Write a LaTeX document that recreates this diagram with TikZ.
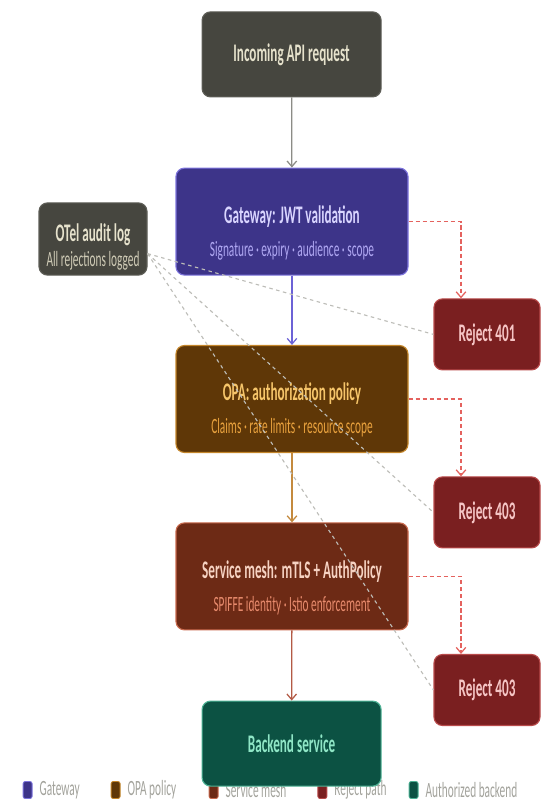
\documentclass[tikz,border=0pt]{standalone}
\usepackage{fontspec}
\setmainfont[FakeStretch=0.52]{Carlito}
\usetikzlibrary{arrows.meta,positioning}

\definecolor{reqfill}{HTML}{46463F}
\definecolor{reqline}{HTML}{5E5E57}
\definecolor{reqtext}{HTML}{E6E2CC}
\definecolor{otelsub}{HTML}{CFCBB6}
\definecolor{gwfill}{HTML}{3D3489}
\definecolor{gwline}{HTML}{7D74DC}
\definecolor{gwhead}{HTML}{D9D5FF}
\definecolor{gwsub}{HTML}{AFA7F2}
\definecolor{gwarrow}{HTML}{6C62D6}
\definecolor{opafill}{HTML}{5F3707}
\definecolor{opaline}{HTML}{C4862B}
\definecolor{opahead}{HTML}{F6C56A}
\definecolor{opasub}{HTML}{E9A23E}
\definecolor{opaarrow}{HTML}{C48A3E}
\definecolor{meshfill}{HTML}{6D2A15}
\definecolor{meshline}{HTML}{C86A4E}
\definecolor{meshhead}{HTML}{F6D2C2}
\definecolor{meshsub}{HTML}{E78A6C}
\definecolor{mesharrow}{HTML}{B35A45}
\definecolor{rejfill}{HTML}{7A1F20}
\definecolor{rejline}{HTML}{B84A4A}
\definecolor{rejtext}{HTML}{F6C6C6}
\definecolor{bkfill}{HTML}{0C5243}
\definecolor{bkline}{HTML}{4EB295}
\definecolor{bktext}{HTML}{8FE6C6}
\definecolor{reddash}{HTML}{E4625E}
\definecolor{graydash}{HTML}{BDBDB8}
\definecolor{legendtext}{HTML}{A3A39C}
\definecolor{reqarrow}{HTML}{8C8C86}

\newcommand{\headfont}{\fontsize{18}{21}\selectfont\bfseries}
\newcommand{\subfont}{\fontsize{15.5}{18}\selectfont}
\newcommand{\headstrut}{\rule{0pt}{1.0cm}}

\begin{document}
\begin{tikzpicture}[
    >={Straight Barb[length=1.4mm,width=2.4mm]},
    stage/.style={
        draw,
        line width=0.8pt,
        rounded corners=6pt,
        minimum width=5.8cm,
        minimum height=2.675cm,
        align=center
    },
    endpoint/.style={
        stage,
        minimum width=4.475cm,
        minimum height=2.125cm,
        font=\headfont
    },
    logbox/.style={
        stage,
        fill=reqfill,
        draw=reqline,
        minimum width=2.7cm,
        minimum height=1.8cm
    },
    reject/.style={
        stage,
        fill=rejfill,
        draw=rejline,
        text=rejtext,
        minimum width=2.65cm,
        minimum height=1.775cm,
        font=\headfont
    },
    swatch/.style={
        draw,
        line width=0.6pt,
        rounded corners=1.5pt,
        minimum width=0.225cm,
        minimum height=0.425cm,
        inner sep=0pt
    },
    legend/.style={text=legendtext, font=\fontsize{15.5}{17}\selectfont, inner sep=0pt},
    flow/.style={->, line width=0.9pt},
    deny/.style={->, line width=0.9pt, draw=reddash, dash pattern=on 3pt off 2pt},
    audit/.style={line width=0.8pt, draw=graydash, dash pattern=on 2.5pt off 2.5pt}
]
    \useasboundingbox (0,0) rectangle (13.525,-20);

    % legend (partly under the backend box)
    \node[swatch, fill=gwfill, draw=gwline] (keygw) at (0.69,-19.75) {};
    \node[legend, right=0.17cm of keygw] (keygwtext) {Gateway};
    \node[swatch, fill=opafill, draw=opaline] (keyopa) at (2.89,-19.75) {};
    \node[legend, right=0.17cm of keyopa] (keyopatext) {OPA policy};
    \node[swatch, fill=meshfill, draw=meshline] (keymesh) at (5.34,-19.75) {};
    \node[legend, right=0.17cm of keymesh] (keymeshtext) {Service mesh};
    \node[swatch, fill=rejfill, draw=rejline] (keyrej) at (8.06,-19.75) {};
    \node[legend, right=0.17cm of keyrej] (keyrejtext) {Reject path};
    \node[swatch, fill=bkfill, draw=bkline] (keybk) at (10.34,-19.75) {};
    \node[legend, right=0.17cm of keybk] (keybktext) {Authorized backend};

    % main column
    \node[endpoint, fill=reqfill, draw=reqline, text=reqtext] (request) at (7.29,-1.36) {Incoming API request};
    \node[stage, fill=gwfill, draw=gwline] (gateway) at (7.3,-5.54)
        {\headstrut{\headfont\color{gwhead}Gateway: JWT validation}\\[9pt]{\subfont\color{gwsub}Signature · expiry · audience · scope}};
    \node[stage, fill=opafill, draw=opaline] (opa) at (7.3,-9.975)
        {\headstrut{\headfont\color{opahead}OPA: authorization policy}\\[9pt]{\subfont\color{opasub}Claims · rate limits · resource scope}};
    \node[stage, fill=meshfill, draw=meshline] (mesh) at (7.3,-14.41)
        {\headstrut{\headfont\color{meshhead}Service mesh: mTLS + AuthPolicy}\\[9pt]{\subfont\color{meshsub}SPIFFE identity · Istio enforcement}};
    \node[endpoint, fill=bkfill, draw=bkline, text=bktext] (backend) at (7.29,-18.59) {Backend service};

    % side boxes
    \node[logbox] (otel) at (2.325,-5.975)
        {\rule{0pt}{0.85cm}{\headfont\color{reqtext}OTel audit log}\\[3pt]{\subfont\color{otelsub}All rejections logged}};
    \node[reject] (reject401) at (12.175,-8.36) {Reject 401};
    \node[reject] (rejectopa) at (12.175,-12.81) {Reject 403};
    \node[reject] (rejectmesh) at (12.175,-17.25) {Reject 403};

    % allowed path
    \draw[flow, reqarrow] (request) -- (gateway);
    \draw[flow, gwarrow] (gateway) -- (opa);
    \draw[flow, opaarrow] (opa) -- (mesh);
    \draw[flow, mesharrow] (mesh) -- (backend);

    % rejections
    \draw[deny] (gateway.east) -| ([xshift=-0.65cm]reject401.north);
    \draw[deny] (opa.east) -| ([xshift=-0.65cm]rejectopa.north);
    \draw[deny] (mesh.east) -| ([xshift=-0.65cm]rejectmesh.north);

    % audit trail
    \draw[audit] (otel.-15) -- (reject401.west);
    \draw[audit] (otel.-15) -- (rejectopa.west);
    \draw[audit] (otel.-15) -- (rejectmesh.west);
\end{tikzpicture}
\end{document}
